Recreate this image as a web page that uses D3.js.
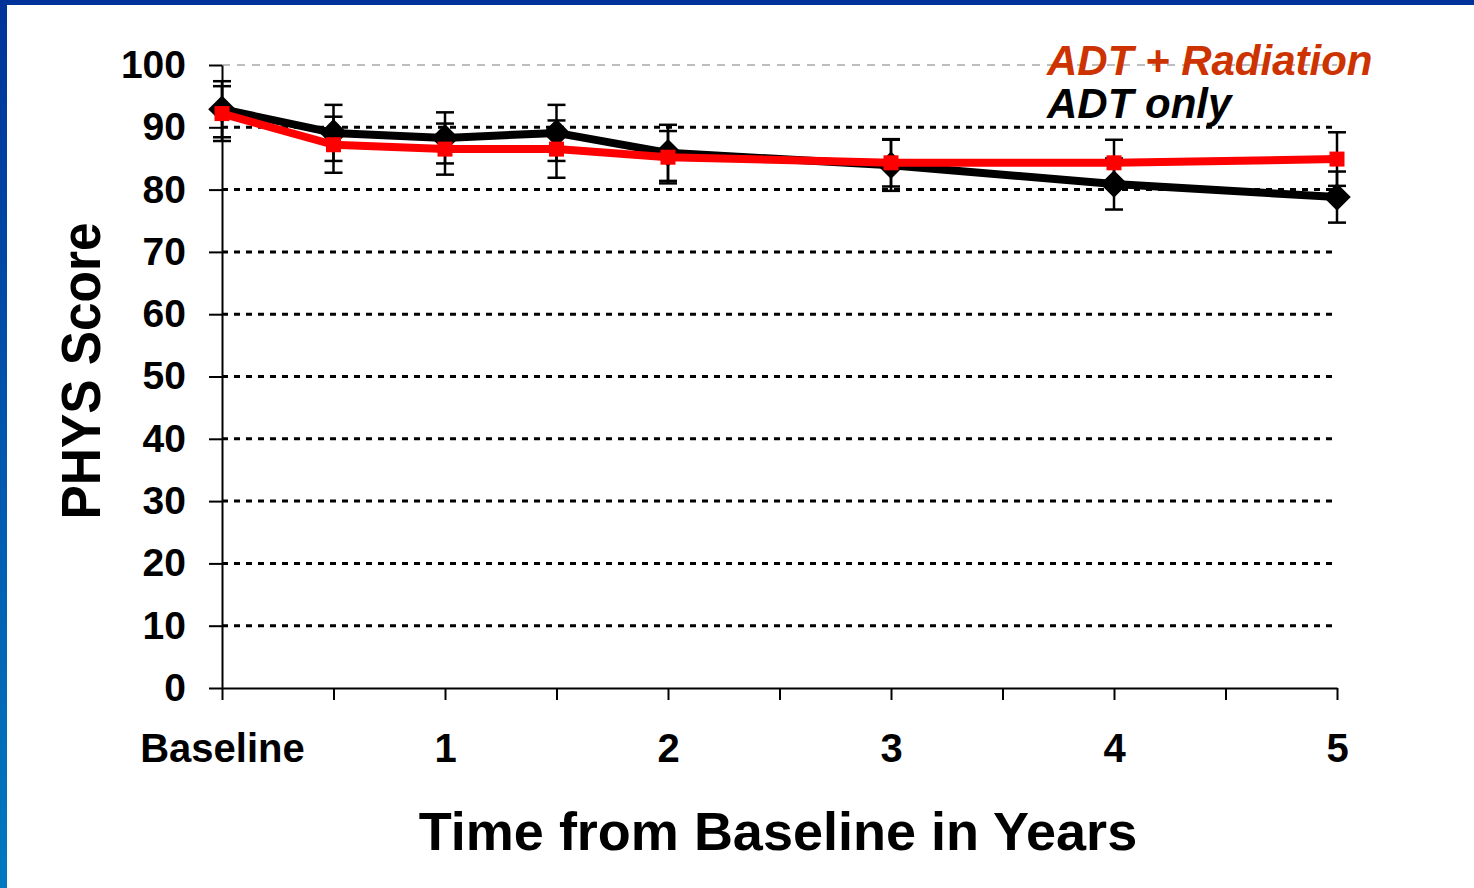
<!DOCTYPE html>
<html>
<head>
<meta charset="utf-8">
<script src="https://cdn.jsdelivr.net/npm/d3@7"></script>
<style>
  body { margin: 0; background: #fff; }
  svg { display: block; font-family: Arial, "Liberation Sans", sans-serif; }
</style>
</head>
<body>
<svg width="1474" height="888"></svg>
<script>
// data
var years = [0, 0.5, 1, 1.5, 2, 3, 4, 5];
var adtOnly = [92.9, 89.1, 88.3, 89.1, 85.9, 83.9, 80.9, 78.8];
var adtOnlyErr = [4.5, 4.5, 4.1, 4.5, 4.5, 4.1, 4.1, 4.1];
var adtRad = [92.2, 87.2, 86.5, 86.5, 85.2, 84.3, 84.3, 84.9];
var adtRadErr = [4.4, 4.5, 4.1, 4.6, 4.2, 3.8, 3.7, 4.3];
var xTicks = [0, 0.5, 1, 1.5, 2, 2.5, 3, 3.5, 4, 4.5, 5];
var xLabels = {0: "Baseline", 1: "1", 2: "2", 3: "3", 4: "4", 5: "5"};
var yTicks = [0, 10, 20, 30, 40, 50, 60, 70, 80, 90, 100];

var svg = d3.select("svg"),
    width = +svg.attr("width"),
    height = +svg.attr("height");

var x = d3.scaleLinear().domain([0, 5]).range([222, 1337]);
var y = d3.scaleLinear().domain([0, 100]).range([688, 65]);

// slide frame (blue bars top and left)
var defs = svg.append("defs");
var grad = defs.append("linearGradient")
    .attr("id", "frame")
    .attr("x1", 0).attr("y1", 0).attr("x2", 0).attr("y2", 1);
grad.append("stop").attr("offset", "0%").attr("stop-color", "#003399");
grad.append("stop").attr("offset", "100%").attr("stop-color", "#0079c1");

svg.append("rect")
    .attr("x", 0).attr("y", 0)
    .attr("width", 7).attr("height", height)
    .attr("fill", "url(#frame)");
svg.append("rect")
    .attr("x", 0).attr("y", 0)
    .attr("width", width).attr("height", 5)
    .attr("fill", "#003399");

// gridlines
svg.append("g")
    .attr("class", "grid")
  .selectAll("line")
  .data(yTicks.filter(function(d) { return d > 0; }))
  .enter().append("line")
    .attr("x1", x(0))
    .attr("x2", x(5))
    .attr("y1", function(d) { return y(d); })
    .attr("y2", function(d) { return y(d); })
    .attr("stroke", function(d) { return d == 100 ? "#bdbdbd" : "#000"; })
    .attr("stroke-width", function(d) { return d == 100 ? 2 : 3; })
    .attr("stroke-dasharray", function(d) { return d == 100 ? "8 7" : "6 6"; });

// axes
var yAxis = svg.append("g")
    .attr("transform", "translate(" + x(0) + ",0)")
    .call(d3.axisLeft(y).tickValues(yTicks).tickSize(13).tickSizeOuter(0).tickPadding(23));

var xAxis = svg.append("g")
    .attr("transform", "translate(0," + y(0) + ")")
    .call(d3.axisBottom(x).tickValues(xTicks).tickSize(12).tickSizeOuter(0)
      .tickFormat(function(d) { return xLabels[d] || ""; }));

svg.selectAll(".domain, .tick line")
    .attr("stroke", "#000")
    .attr("stroke-width", 2);

yAxis.selectAll("text")
    .attr("font-size", 39)
    .attr("font-weight", "bold")
    .attr("fill", "#000")
    .attr("font-family", null);

xAxis.selectAll("text")
    .attr("y", 762 - 688)
    .attr("dy", null)
    .attr("font-size", 40)
    .attr("font-weight", "bold")
    .attr("fill", "#000")
    .attr("font-family", null);

// error bars
function errorBars(vals, errs) {
  var g = svg.append("g");
  var rows = years.map(function(d, i) { return {x: d, v: vals[i], e: errs[i]}; });
  var bar = g.selectAll("g")
    .data(rows)
    .enter().append("g")
      .attr("stroke", "#000")
      .attr("stroke-width", 2.5);
  bar.append("line")
      .attr("x1", function(d) { return x(d.x); })
      .attr("x2", function(d) { return x(d.x); })
      .attr("y1", function(d) { return y(d.v + d.e); })
      .attr("y2", function(d) { return y(d.v - d.e); });
  bar.append("line")
      .attr("x1", function(d) { return x(d.x) - 9; })
      .attr("x2", function(d) { return x(d.x) + 9; })
      .attr("y1", function(d) { return y(d.v + d.e); })
      .attr("y2", function(d) { return y(d.v + d.e); });
  bar.append("line")
      .attr("x1", function(d) { return x(d.x) - 9; })
      .attr("x2", function(d) { return x(d.x) + 9; })
      .attr("y1", function(d) { return y(d.v - d.e); })
      .attr("y2", function(d) { return y(d.v - d.e); });
}
errorBars(adtOnly, adtOnlyErr);
errorBars(adtRad, adtRadErr);

var line = d3.line()
    .x(function(d) { return x(d[0]); })
    .y(function(d) { return y(d[1]); });

// rot = 45 turns the square marker into the excel style diamond
function series(vals, color, size, rot) {
  var pts = years.map(function(d, i) { return [d, vals[i]]; });
  svg.append("path")
      .datum(pts)
      .attr("fill", "none")
      .attr("stroke", color)
      .attr("stroke-width", 8)
      .attr("stroke-linejoin", "round")
      .attr("d", line);
  svg.append("g")
    .selectAll("path")
    .data(pts)
    .enter().append("path")
      .attr("transform", function(d) { return "translate(" + x(d[0]) + "," + y(d[1]) + ") rotate(" + rot + ")"; })
      .attr("d", d3.symbol().type(d3.symbolSquare).size(size))
      .attr("fill", color);
}
series(adtOnly, "#000", 380, 45);
series(adtRad, "#ff0000", 225, 0);

// legend
svg.append("text")
    .attr("x", 1047)
    .attr("y", 75)
    .attr("font-size", 42)
    .attr("font-weight", "bold")
    .attr("font-style", "italic")
    .attr("fill", "#cc3300")
    .text("ADT + Radiation");
svg.append("text")
    .attr("x", 1047)
    .attr("y", 118)
    .attr("font-size", 42)
    .attr("font-weight", "bold")
    .attr("font-style", "italic")
    .attr("fill", "#000")
    .text("ADT only");

// axis titles
svg.append("text")
    .attr("x", 778)
    .attr("y", 850)
    .attr("text-anchor", "middle")
    .attr("font-size", 54)
    .attr("font-weight", "bold")
    .text("Time from Baseline in Years");

svg.append("text")
    .attr("transform", "translate(100,371) rotate(-90)")
    .attr("text-anchor", "middle")
    .attr("font-size", 56)
    .attr("font-weight", "bold")
    .attr("textLength", 297)
    .attr("lengthAdjust", "spacingAndGlyphs")
    .text("PHYS Score");
</script>
</body>
</html>
